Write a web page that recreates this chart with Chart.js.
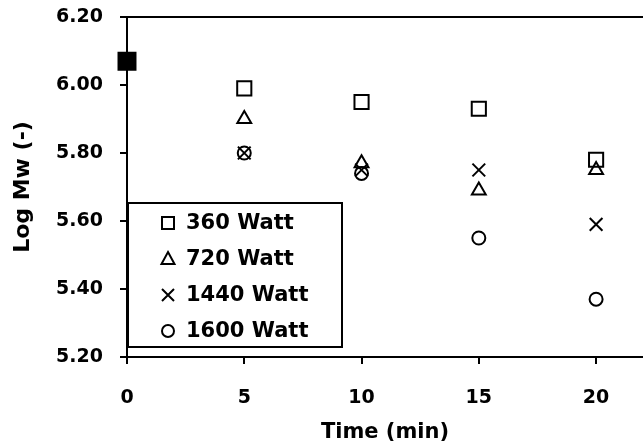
<!DOCTYPE html>
<html>
<head>
<meta charset="utf-8">
<script src="https://cdn.jsdelivr.net/npm/chart.js@4.4.0/dist/chart.umd.min.js"></script>
<style>
    body { margin: 0; background: #fff; }
    #wrap { width: 643px; height: 448px; }
</style>
</head>
<body>
<div id="wrap"><canvas id="mwChart" width="643" height="448"></canvas></div>
<script>
const times = [0, 5, 10, 15, 20];
const xTicks = [0, 5, 10, 15, 20];
const yTicks = [5.2, 5.4, 5.6, 5.8, 6.0, 6.2];

const labels = ['360 Watt', '720 Watt', '1440 Watt', '1600 Watt'];
const w360 = [6.07, 5.99, 5.95, 5.93, 5.78];
const w720 = [6.07, 5.90, 5.77, 5.69, 5.75];
const w1440 = [6.07, 5.80, 5.75, 5.75, 5.59];
const w1600 = [6.07, 5.80, 5.74, 5.55, 5.37];

const styles = ['rect', 'triangle', 'crossRot', 'circle'];
const radii = [10, 8, 9, 6.5];
const series = [w360, w720, w1440, w1600];

const boldFont = 'DejaVu Sans';

const toPoints = vals => times.map((t, i) => ({ x: t, y: vals[i] }));

const datasets = series.map((vals, k) => ({
    label: labels[k],
    data: toPoints(vals),
    pointStyle: styles[k],
    pointRadius: k === 0 ? vals.map((v, i) => i === 0 ? 12 : radii[k]) : radii[k],
    pointBorderWidth: 2,
    pointBorderColor: '#000',
    pointBackgroundColor: k === 0 ? vals.map((v, i) => i === 0 ? '#000' : 'rgba(0,0,0,0)') : 'rgba(0,0,0,0)',
    showLine: false,
    clip: false
}));

// legend box drawn inside the plot, lower left
const insetLegend = {
    id: 'insetLegend',
    afterDatasetsDraw(chart) {
        const { ctx, chartArea } = chart;
        const left = chartArea.left + 1;
        const top = chartArea.top + 186;
        const w = 214, h = 144;
        ctx.save();
        ctx.fillStyle = '#fff';
        ctx.fillRect(left, top, w, h);
        ctx.strokeStyle = '#000';
        ctx.lineWidth = 2;
        ctx.strokeRect(left, top, w, h);

        ctx.font = 'bold 21px "' + boldFont + '"';
        ctx.textBaseline = 'middle';
        ctx.fillStyle = '#000';
        chart.data.datasets.forEach((ds, i) => {
            const cy = top + 20 + i * 36;
            const cx = left + 40;
            drawMarker(ctx, ds.pointStyle, cx, cy);
            ctx.fillText(ds.label, left + 58, cy + 1);
        });
        ctx.restore();
    },
    afterDraw(chart) {
        // top frame line
        const { ctx, chartArea } = chart;
        ctx.save();
        ctx.strokeStyle = '#000';
        ctx.lineWidth = 2;
        ctx.beginPath();
        ctx.moveTo(chartArea.left, chartArea.top);
        ctx.lineTo(chartArea.right, chartArea.top);
        ctx.stroke();
        ctx.restore();
    }
};

function drawMarker(ctx, style, x, y) {
    ctx.lineWidth = 2;
    ctx.strokeStyle = '#000';
    ctx.beginPath();
    if (style === 'rect') {
        ctx.rect(x - 6, y - 6, 12, 12);
    } else if (style === 'triangle') {
        ctx.moveTo(x, y - 7);
        ctx.lineTo(x + 6.5, y + 5);
        ctx.lineTo(x - 6.5, y + 5);
        ctx.closePath();
    } else if (style === 'crossRot') {
        ctx.moveTo(x - 6, y - 6); ctx.lineTo(x + 6, y + 6);
        ctx.moveTo(x + 6, y - 6); ctx.lineTo(x - 6, y + 6);
    } else {
        ctx.arc(x, y, 6, 0, Math.PI * 2);
    }
    ctx.stroke();
}

new Chart(document.getElementById('mwChart'), {
    type: 'scatter',
    data: { datasets: datasets },
    options: {
        responsive: false,
        animation: false,
        layout: { autoPadding: false, padding: { top: 17, right: 0, bottom: 0, left: 0 } },
        plugins: {
            legend: { display: false },
            tooltip: { enabled: false }
        },
        scales: {
            x: {
                type: 'linear',
                min: 0,
                max: 22,
                afterBuildTicks: s => { s.ticks = xTicks.map(v => ({ value: v })); },
                afterFit: s => {
                    s.height = 91;
                    s.paddingLeft = 0;
                    s.paddingRight = 0;
                },
                ticks: {
                    color: '#000',
                    padding: 23,
                    maxRotation: 0,
                    font: { family: boldFont, size: 19, weight: 'bold' }
                },
                grid: { drawOnChartArea: false, tickLength: 7, color: '#000', lineWidth: 2 },
                border: { color: '#000', width: 2 },
                title: {
                    display: true,
                    text: 'Time (min)',
                    color: '#000',
                    padding: { top: 0, bottom: 3 },
                    font: { family: boldFont, size: 21, weight: 'bold' }
                }
            },
            y: {
                min: 5.2,
                max: 6.2,
                afterBuildTicks: s => { s.ticks = yTicks.map(v => ({ value: v })); },
                afterFit: s => {
                    s.width = 127;
                    s.paddingTop = 0;
                    s.paddingBottom = 0;
                },
                ticks: {
                    color: '#000',
                    padding: 17,
                    callback: v => v.toFixed(2),
                    font: { family: boldFont, size: 19, weight: 'bold' }
                },
                grid: { drawOnChartArea: false, tickLength: 7, color: '#000', lineWidth: 2 },
                border: { color: '#000', width: 2 },
                title: {
                    display: true,
                    text: 'Log Mw (-)',
                    color: '#000',
                    padding: { top: 10, bottom: 0 },
                    font: { family: boldFont, size: 22, weight: 'bold' }
                }
            }
        }
    },
    plugins: [insetLegend]
});
</script>
</body>
</html>
